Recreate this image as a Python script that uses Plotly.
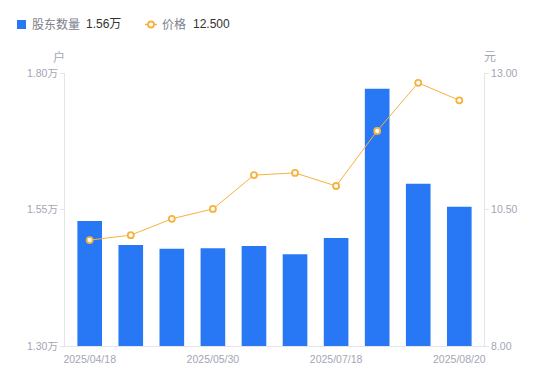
import plotly.graph_objects as go

dates = ["2025/04/18", "2025/04/30", "2025/05/20", "2025/05/30", "2025/06/20",
         "2025/06/30", "2025/07/18", "2025/07/31", "2025/08/10", "2025/08/20"]
holders = [1.529, 1.485, 1.478, 1.479, 1.483, 1.468, 1.498, 1.771, 1.597, 1.555]  # 万户
price = [9.94, 10.03, 10.33, 10.51, 11.13, 11.17, 10.93, 11.94, 12.82, 12.50]

left_ticks = [1.30, 1.55, 1.80]
right_ticks = [8.00, 10.50, 13.00]
x_tick_labels = ["2025/04/18", "2025/05/30", "2025/07/18", "2025/08/20"]

BLUE = "#2878F5"
ORANGE = "#F7B23B"
GREY = "#A3A6B4"
LGREY = "#7d808c"
DARK = "#333333"
AXIS = "#E3E5EA"
FONT = "Liberation Sans, Noto Sans CJK SC, sans-serif"

OFF = 8  # page body margin in the browser
FW, FH = 550 - OFF, 381 - OFF
L, R, T, B = 65 - OFF, 484 - OFF, 73 - OFF, 346 - OFF
W, H = R - L, B - T


def px(x):
    return (x - OFF - L) / W


def py(y):
    return (B - (y - OFF)) / H


fig = go.Figure()
fig.add_trace(go.Bar(
    x=dates, y=holders, marker=dict(color=BLUE, line=dict(width=0)),
    width=0.6, yaxis="y", name="股东数量",
))
fig.add_trace(go.Scatter(
    x=dates, y=price, yaxis="y2", mode="lines+markers",
    line=dict(color=ORANGE, width=1),
    marker=dict(color="white", size=6, line=dict(color=ORANGE, width=1.8)),
    name="价格",
))

shapes = [
    dict(type="rect", xref="paper", yref="paper", x0=px(17), x1=px(26), y0=py(20), y1=py(29),
         fillcolor=BLUE, line=dict(width=0)),
    dict(type="line", xref="paper", yref="paper", x0=px(145), x1=px(157), y0=py(24.5), y1=py(24.5),
         line=dict(color=ORANGE, width=1.5)),
    dict(type="circle", xref="paper", yref="paper", x0=px(148), x1=px(154), y0=py(21.5), y1=py(27.5),
         fillcolor="white", line=dict(color=ORANGE, width=1.8)),
]


def txt(t, x, y, color, size=12, anchor="left"):
    return dict(text=t, xref="paper", yref="paper", x=px(x), y=py(y), xanchor=anchor,
                yanchor="middle", showarrow=False, font=dict(size=size, color=color, family=FONT))


annotations = [
    txt("股东数量", 30, 24.5, LGREY, 12),
    txt("1.56万", 84, 24.5, DARK, 12),
    txt("价格", 160, 24.5, LGREY, 12),
    txt("12.500", 191, 24.5, DARK, 12),
    txt("户", 59, 57, GREY, 12, "center"),
    txt("元", 490, 57, GREY, 12, "center"),
]

fig.update_layout(
    width=FW, height=FH,
    margin=dict(l=L, r=FW - R, t=T, b=FH - B),
    paper_bgcolor="white", plot_bgcolor="white",
    font=dict(family=FONT, size=11, color=GREY),
    showlegend=False,
    bargap=0.4,
    shapes=shapes,
    annotations=annotations,
    xaxis=dict(
        type="category", showgrid=False, showline=True, linecolor=AXIS, linewidth=1,
        ticks="", tickvals=x_tick_labels, ticktext=x_tick_labels, ticklabelstandoff=3,
        tickfont=dict(size=10.5, color=GREY), zeroline=False,
    ),
    yaxis=dict(
        range=[1.30, 1.80], showgrid=False, showline=True, linecolor=AXIS, linewidth=1,
        ticks="outside", ticklen=4, tickcolor=AXIS,
        tickvals=left_ticks, ticktext=[f"{v:.2f}万" for v in left_ticks],
        tickfont=dict(size=10.5, color=GREY), zeroline=False,
    ),
    yaxis2=dict(
        range=[8.0, 13.0], overlaying="y", side="right", showgrid=False,
        showline=True, linecolor=AXIS, linewidth=1,
        ticks="outside", ticklen=4, tickcolor=AXIS,
        tickvals=right_ticks, ticktext=[f"{v:.2f}" for v in right_ticks],
        tickfont=dict(size=10.5, color=GREY), zeroline=False,
    ),
)

fig.write_html("out.html")
